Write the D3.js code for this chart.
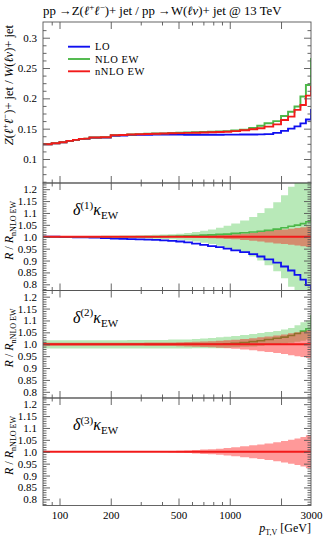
<!DOCTYPE html>
<html><head><meta charset="utf-8">
<script src="https://cdn.jsdelivr.net/npm/d3@7"></script>
<style>
body{margin:0;background:#fff}
svg text{font-family:"Liberation Serif","DejaVu Serif",serif;fill:#000}
</style>
</head><body><svg id="c" width="324" height="540"></svg>
<script>
// ---------- DATA ----------
const binEdges = [80, 90, 100, 110, 120, 130, 140, 150, 175, 200, 225, 250, 280, 315, 350, 390, 435, 485, 540, 600, 670, 745, 830, 920, 1020, 1150, 1300, 1450, 1600, 1800, 2000, 2200, 2400, 2600, 2800, 3000, 3500];
// main panel: Z+jet / W+jet ratio
const loMain   = [0.1242, 0.1258, 0.1275, 0.1296, 0.1312, 0.1329, 0.1331, 0.1350, 0.1352, 0.1383, 0.1385, 0.1395, 0.1398, 0.1400, 0.1401, 0.1402, 0.1402, 0.1401, 0.1400, 0.1400, 0.1399, 0.1399, 0.1400, 0.1401, 0.1402, 0.1403, 0.1404, 0.1406, 0.1410, 0.1430, 0.1463, 0.1500, 0.1537, 0.1588, 0.1650, 0.1810];
const nloMain  = [0.1243, 0.1259, 0.1277, 0.1298, 0.1315, 0.1332, 0.1335, 0.1355, 0.1358, 0.1392, 0.1396, 0.1405, 0.1410, 0.1415, 0.1420, 0.1423, 0.1428, 0.1432, 0.1436, 0.1440, 0.1444, 0.1448, 0.1453, 0.1460, 0.1470, 0.1485, 0.1510, 0.1547, 0.1590, 0.1625, 0.1710, 0.1780, 0.1865, 0.2030, 0.2220, 0.2650];
const nnloMain = [0.1243, 0.1259, 0.1277, 0.1298, 0.1315, 0.1332, 0.1335, 0.1355, 0.1358, 0.1391, 0.1395, 0.1404, 0.1408, 0.1413, 0.1417, 0.1420, 0.1424, 0.1427, 0.1430, 0.1433, 0.1436, 0.1440, 0.1444, 0.1450, 0.1460, 0.1475, 0.1490, 0.1506, 0.1533, 0.1570, 0.1643, 0.1698, 0.1810, 0.1890, 0.2045, 0.2190];
// panel 1: delta(1) kappa_EW
const r1LO     = [1.000, 1.000, 0.999, 0.999, 0.998, 0.998, 0.997, 0.996, 0.994, 0.992, 0.991, 0.990, 0.989, 0.988, 0.987, 0.985, 0.983, 0.980, 0.976, 0.971, 0.966, 0.961, 0.956, 0.950, 0.943, 0.935, 0.927, 0.917, 0.905, 0.891, 0.875, 0.858, 0.840, 0.820, 0.797, 0.760];
const r1NLO    = [1.000, 1.000, 1.000, 1.000, 1.000, 1.000, 1.000, 1.000, 1.000, 1.000, 1.000, 1.000, 1.000, 1.000, 1.000, 1.001, 1.002, 1.003, 1.004, 1.005, 1.007, 1.008, 1.010, 1.011, 1.014, 1.017, 1.020, 1.023, 1.027, 1.032, 1.038, 1.044, 1.049, 1.055, 1.063, 1.083];
const r1NLOerr = [0.002, 0.002, 0.002, 0.002, 0.003, 0.003, 0.003, 0.003, 0.004, 0.004, 0.005, 0.005, 0.006, 0.007, 0.008, 0.009, 0.011, 0.013, 0.016, 0.020, 0.025, 0.031, 0.038, 0.046, 0.056, 0.068, 0.083, 0.100, 0.120, 0.145, 0.175, 0.210, 0.250, 0.290, 0.330, 0.380];
const r1NNLOerr= [0.001, 0.001, 0.001, 0.001, 0.001, 0.001, 0.001, 0.001, 0.001, 0.001, 0.001, 0.001, 0.001, 0.002, 0.002, 0.002, 0.002, 0.002, 0.003, 0.004, 0.005, 0.006, 0.007, 0.009, 0.011, 0.014, 0.017, 0.020, 0.024, 0.028, 0.031, 0.034, 0.037, 0.040, 0.043, 0.046];
// panel 2: delta(2) kappa_EW
const r2NLO    = [1.000, 1.000, 1.000, 1.000, 1.000, 1.000, 1.000, 1.000, 1.000, 1.000, 1.000, 1.000, 1.000, 1.000, 1.000, 1.000, 1.000, 1.000, 1.000, 1.000, 1.000, 1.000, 1.000, 1.002, 1.004, 1.007, 1.011, 1.015, 1.020, 1.025, 1.030, 1.037, 1.045, 1.055, 1.065, 1.120];
const r2NLOhi  = [1.017, 1.017, 1.017, 1.017, 1.017, 1.017, 1.017, 1.017, 1.017, 1.017, 1.017, 1.018, 1.018, 1.018, 1.018, 1.018, 1.020, 1.020, 1.020, 1.022, 1.024, 1.026, 1.029, 1.032, 1.035, 1.039, 1.043, 1.047, 1.051, 1.056, 1.062, 1.068, 1.080, 1.092, 1.100, 1.120];
const r2NLOlo  = [0.982, 0.982, 0.982, 0.982, 0.982, 0.982, 0.982, 0.982, 0.982, 0.982, 0.982, 0.982, 0.982, 0.982, 0.982, 0.982, 0.982, 0.982, 0.982, 0.983, 0.983, 0.983, 0.983, 0.985, 0.987, 0.989, 0.991, 0.994, 0.997, 1.000, 1.003, 1.006, 1.010, 1.015, 1.020, 1.030];
const r2NNLOerr= [0.006, 0.006, 0.006, 0.006, 0.006, 0.006, 0.006, 0.006, 0.006, 0.006, 0.006, 0.006, 0.006, 0.007, 0.007, 0.007, 0.007, 0.008, 0.009, 0.010, 0.012, 0.013, 0.015, 0.017, 0.019, 0.022, 0.025, 0.029, 0.033, 0.037, 0.041, 0.046, 0.050, 0.054, 0.058, 0.062];
// panel 3: delta(3) kappa_EW
const r3NNLOerr= [0.001, 0.001, 0.001, 0.001, 0.001, 0.001, 0.001, 0.001, 0.001, 0.001, 0.001, 0.001, 0.001, 0.001, 0.001, 0.002, 0.003, 0.004, 0.005, 0.007, 0.009, 0.011, 0.013, 0.016, 0.019, 0.023, 0.027, 0.031, 0.035, 0.040, 0.045, 0.050, 0.056, 0.062, 0.069, 0.078];

const seriesNames = ["LO", "NLO EW", "nNLO EW"];
const mainTicks = [0.1, 0.15, 0.2, 0.25, 0.3];
const mainMinor = [0.0625, 0.075, 0.0875, 0.1125, 0.125, 0.1375, 0.1625, 0.175, 0.1875, 0.2125, 0.225, 0.2375, 0.2625, 0.275, 0.2875, 0.3125];
const ratioTicks = [0.8, 0.85, 0.9, 0.95, 1.0, 1.05, 1.1, 1.15, 1.2];
const ratioTickLabels = ["0.8", "0.85", "0.9", "0.95", "1.0", "1.05", "1.1", "1.15", "1.2"];
const xMajor = [100, 200, 500, 1000, 2000];
const xMinor = [90, 300, 400, 600, 700, 800, 900];
const xLabels = [100, 200, 500, 1000, 3000];

// ---------- STYLE / LAYOUT ----------
const C = {blue: "#1010f0", green: "#4cb848", red: "#f21a1a", gband: "rgb(0,175,0)", rband: "rgb(255,0,0)", frame: "#555"};
const FONT = '"Liberation Serif",serif';
const L = 43, R = 311;
const mainTop = 22, mainBot = 183, rH = 107.5;
const panels = [
  {top: mainBot, bot: mainBot + rH},
  {top: mainBot + rH, bot: mainBot + 2 * rH},
  {top: mainBot + 2 * rH, bot: mainBot + 3 * rH}
];

const svg = d3.select("#c");
const x = d3.scaleLog().domain([80, 3000]).range([L, R]);
const yMain = d3.scaleLinear().domain([0.0604, 0.3259]).range([mainBot, mainTop]);
const yR = panels.map(p => d3.scaleLinear().domain([0.774, 1.226]).range([p.bot, p.top]));

function stepPts(vals) {
  const p = [];
  vals.forEach((v, i) => { p.push([binEdges[i], v]); p.push([binEdges[i + 1], v]); });
  return p;
}
function bandPts(lo, hi) {
  const p = [];
  lo.forEach((v, i) => { p.push([binEdges[i], v, hi[i]]); p.push([binEdges[i + 1], v, hi[i]]); });
  return p;
}

let clipId = 0;
function panelGroup(top, bot) {
  const id = "clip" + (clipId++);
  svg.append("clipPath").attr("id", id).append("rect")
    .attr("x", L).attr("y", top).attr("width", R - L).attr("height", bot - top);
  return svg.append("g").attr("clip-path", `url(#${id})`);
}
function drawLine(g, y, vals, color, w) {
  g.append("path").datum(stepPts(vals))
    .attr("d", d3.line().x(d => x(d[0])).y(d => y(d[1])))
    .attr("fill", "none").attr("stroke", color).attr("stroke-width", w || 1.7);
}
function drawBand(g, y, lo, hi, color, op) {
  g.append("path").datum(bandPts(lo, hi))
    .attr("d", d3.area().x(d => x(d[0])).y0(d => y(d[1])).y1(d => y(d[2])))
    .attr("fill", color).attr("fill-opacity", op).attr("stroke", "none");
}
function frameAxes(y, top, bot, yTicks, yMinor, yLabels) {
  const g = svg.append("g");
  const styleAxis = s => { s.select(".domain").remove(); s.selectAll("line").attr("stroke", C.frame).attr("stroke-width", 0.9); };
  g.append("g").attr("transform", `translate(${L},0)`)
    .call(d3.axisLeft(y).tickValues(yTicks).tickSize(-7).tickPadding(6).tickFormat((d, i) => yLabels[i]))
    .call(styleAxis).call(s => s.selectAll("text").attr("font-size", 11).attr("font-family", FONT));
  g.append("g").attr("transform", `translate(${L},0)`)
    .call(d3.axisLeft(y).tickValues(yMinor).tickSize(-3.5).tickFormat("")).call(styleAxis);
  g.append("g").attr("transform", `translate(${R},0)`)
    .call(d3.axisRight(y).tickValues(yTicks).tickSize(-7).tickFormat("")).call(styleAxis);
  g.append("g").attr("transform", `translate(${R},0)`)
    .call(d3.axisRight(y).tickValues(yMinor).tickSize(-3.5).tickFormat("")).call(styleAxis);
  [[top, d3.axisTop], [bot, d3.axisBottom]].forEach(([yy, ax]) => {
    g.append("g").attr("transform", `translate(0,${yy})`)
      .call(ax(x).tickValues(xMajor).tickSize(-7).tickFormat("")).call(styleAxis);
    g.append("g").attr("transform", `translate(0,${yy})`)
      .call(ax(x).tickValues(xMinor).tickSize(-3.5).tickFormat("")).call(styleAxis);
  });
  g.append("rect").attr("x", L).attr("y", top).attr("width", R - L).attr("height", bot - top)
    .attr("fill", "none").attr("stroke", C.frame).attr("stroke-width", 0.9);
}
function rich(sel, segs, size) {
  let shift = 0;
  segs.forEach(s => {
    const target = s.sup ? -size * 0.4 : s.sub ? size * 0.25 : 0;
    const ts = sel.append("tspan").text(s.t).attr("dy", target - shift);
    shift = target;
    if (s.it) ts.attr("font-style", "italic");
    if (s.fs) ts.attr("font-size", s.fs); else if (s.sup || s.sub) ts.attr("font-size", size * 0.7);
  });
}

// ---------- MAIN PANEL ----------
const gm = panelGroup(mainTop, mainBot);
drawLine(gm, yMain, loMain, C.blue, 1.9);
drawLine(gm, yMain, nloMain, C.green, 1.9);
drawLine(gm, yMain, nnloMain, C.red, 1.9);
frameAxes(yMain, mainTop, mainBot, mainTicks, mainMinor, mainTicks.map(String));

// legend
const legColors = [C.blue, C.green, C.red];
seriesNames.forEach((n, i) => {
  const yy = 46.7 + i * 12.3;
  svg.append("line").attr("x1", 68).attr("x2", 90).attr("y1", yy).attr("y2", yy)
    .attr("stroke", legColors[i]).attr("stroke-width", 1.9);
  svg.append("text").attr("x", 95).attr("y", yy + 3.7).attr("font-size", 10.5)
    .attr("letter-spacing", 0.6).text(n);
});

// ---------- RATIO PANELS ----------
const ones = nnloMain.map(v => v / v);
{
  const y = yR[0], g = panelGroup(panels[0].top, panels[0].bot);
  drawBand(g, y, r1NLOerr.map(e => 1 - e), r1NLOerr.map(e => 1 + e), C.gband, 0.28);
  drawBand(g, y, r1NNLOerr.map(e => 1 - e), r1NNLOerr.map(e => 1 + e), C.rband, 0.4);
  drawLine(g, y, r1LO, C.blue, 1.8);
  drawLine(g, y, r1NLO, C.green, 1.6);
  drawLine(g, y, ones, C.red, 1.8);
}
{
  const y = yR[1], g = panelGroup(panels[1].top, panels[1].bot);
  drawBand(g, y, r2NLOlo, r2NLOhi, C.gband, 0.28);
  drawLine(g, y, r2NLO, C.green, 1.6);
  drawBand(g, y, r2NNLOerr.map(e => 1 - e), r2NNLOerr.map(e => 1 + e), C.rband, 0.4);
  drawLine(g, y, ones, C.red, 1.8);
}
{
  const y = yR[2], g = panelGroup(panels[2].top, panels[2].bot);
  drawBand(g, y, r3NNLOerr.map(e => 1 - e), r3NNLOerr.map(e => 1 + e), C.rband, 0.4);
  drawLine(g, y, ones, C.red, 1.8);
}
panels.forEach((p, i) => {
  frameAxes(yR[i], p.top, p.bot, ratioTicks, d3.range(78, 123).map(v => v / 100).filter(v => Math.round(v * 100) % 5 !== 0), ratioTickLabels);
  const t = svg.append("text").attr("x", 73).attr("y", p.top + 32).attr("font-size", 16);
  rich(t, [{t: "δ", it: true}, {t: `(${i + 1})`, sup: true, fs: 11}, {t: "κ", it: true}, {t: "EW", sub: true, fs: 11}], 16);
  const yl = svg.append("text").attr("transform", `translate(13,${p.top + 18}) rotate(-90)`)
    .attr("text-anchor", "end").attr("font-size", 12);
  rich(yl, [{t: "R", it: true}, {t: " / "}, {t: "R", it: true}, {t: "nNLO EW", sub: true, fs: 8}], 12);
});

// x tick labels
svg.append("g").attr("transform", `translate(0,${panels[2].bot})`)
  .call(d3.axisBottom(x).tickValues(xLabels).tickSize(0).tickPadding(6).tickFormat(d3.format("d")))
  .call(s => s.select(".domain").remove())
  .call(s => s.selectAll("text").attr("font-size", 11).attr("font-family", FONT));

// x label
const xl = svg.append("text").attr("x", R).attr("y", 532).attr("text-anchor", "end").attr("font-size", 12);
rich(xl, [{t: "p", it: true}, {t: "T,V", sub: true, fs: 8}, {t: " [GeV]"}], 12);

// main y label
const ml = svg.append("text").attr("transform", `translate(13,25) rotate(-90)`).attr("text-anchor", "end").attr("font-size", 12.5);
rich(ml, [{t: "Z", it: true}, {t: "("}, {t: "ℓ", it: true}, {t: "+", sup: true}, {t: "ℓ", it: true}, {t: "−", sup: true},
  {t: ")+ jet / "}, {t: "W", it: true}, {t: "("}, {t: "ℓν", it: true}, {t: ")+ jet"}], 12.5);

// title
const tt = svg.append("text").attr("x", 43).attr("y", 15).attr("font-size", 12.8);
rich(tt, [{t: "pp →Z("}, {t: "ℓ", it: true}, {t: "+", sup: true}, {t: "ℓ", it: true}, {t: "−", sup: true},
  {t: ")+ jet / pp →W("}, {t: "ℓν", it: true}, {t: ")+ jet @ 13 TeV"}], 12.8);
</script>
</body></html>
